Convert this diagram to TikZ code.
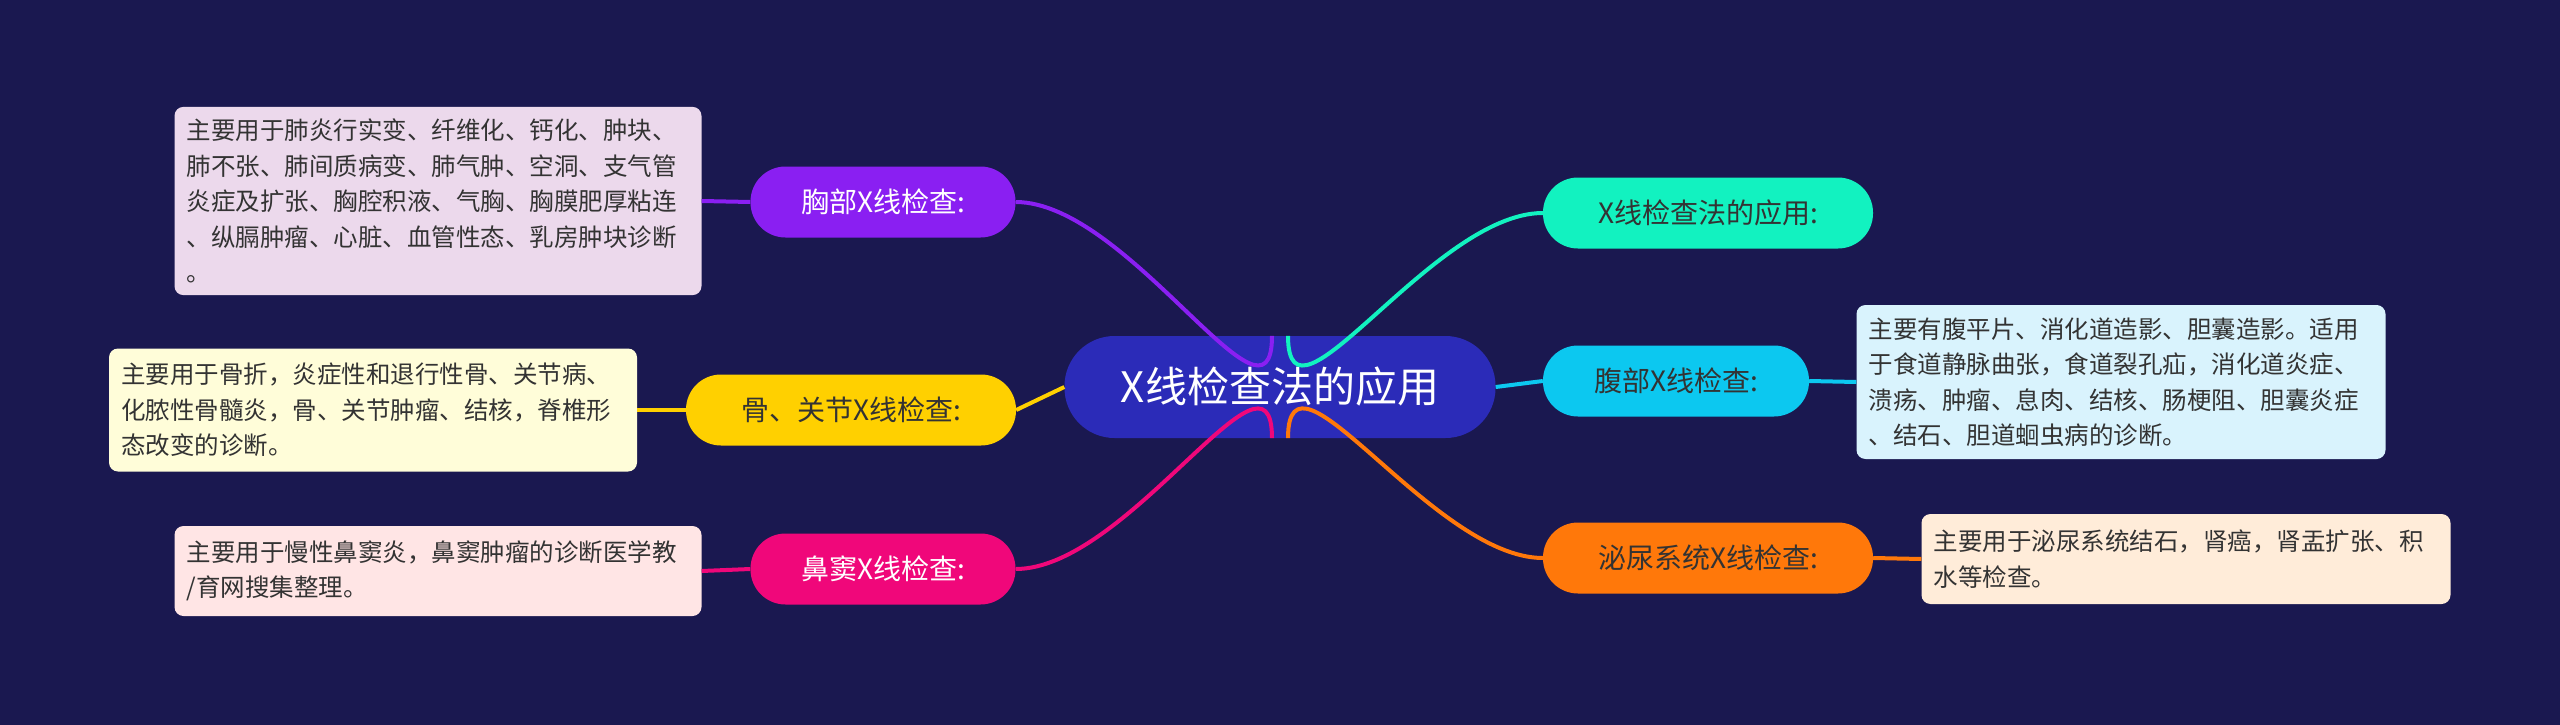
\documentclass[tikz,border=0pt]{standalone}
\usepackage{fontspec}
\setmainfont{Noto Sans CJK SC}
\usetikzlibrary{positioning, calc}
\definecolor{bgc}{HTML}{1A1850}
\definecolor{rootc}{HTML}{2B2BB8}
\definecolor{chestc}{HTML}{8A1FF2}
\definecolor{bonec}{HTML}{FFD000}
\definecolor{sinusc}{HTML}{F0077A}
\definecolor{appc}{HTML}{12F2C0}
\definecolor{abdoc}{HTML}{0CC8F0}
\definecolor{urinc}{HTML}{FF780A}
\definecolor{txtc}{HTML}{333333}
\tikzstyle{root} = [rectangle, rounded corners=50pt, fill=rootc, text=white, minimum width=431pt, minimum height=102pt, font=\fontsize{42}{48}\selectfont]
\tikzstyle{branch} = [rectangle, rounded corners=35pt, minimum height=71pt, font=\fontsize{28}{32}\selectfont]
\tikzstyle{detail} = [rectangle, rounded corners=9pt, text=txtc, align=left, inner sep=12pt, font=\fontsize{24.5}{35.5}\selectfont]
\tikzstyle{link} = [line width=4pt]
\begin{document}
\begin{tikzpicture}[x=1pt, y=-1pt]
\fill[bgc] (0,0) rectangle (2560,725);
\useasboundingbox (0,0) rectangle (2560,725);
\node(root)[root] at (1280,387) {X线检查法的应用};
% left side
\node(chest)[branch, fill=chestc, text=white, minimum width=265pt] at (883,202) {胸部X线检查:};
\node(bone)[branch, fill=bonec, text=txtc, minimum width=330pt] at (851,410) {骨、关节X线检查:};
\node(sinus)[branch, fill=sinusc, text=white, minimum width=265pt] at (883,569) {鼻窦X线检查:};
\node(chestTxt)[detail, fill=violet!15, minimum width=527pt, minimum height=185pt, text width=503pt] at (438,201) {主要用于肺炎行实变、纤维化、钙化、肿块、\\肺不张、肺间质病变、肺气肿、空洞、支气管\\炎症及扩张、胸腔积液、气胸、胸膜肥厚粘连\\、纵膈肿瘤、心脏、血管性态、乳房肿块诊断\\。};
\node(boneTxt)[detail, fill=yellow!15, minimum width=528pt, minimum height=123pt, text width=504pt] at (373,410) {主要用于骨折，炎症性和退行性骨、关节病、\\化脓性骨髓炎，骨、关节肿瘤、结核，脊椎形\\态改变的诊断。};
\node(sinusTxt)[detail, fill=pink!40, minimum width=527pt, minimum height=90pt, text width=503pt] at (438,571) {主要用于慢性鼻窦炎，鼻窦肿瘤的诊断医学教\\/育网搜集整理。};
% right side
\node(app)[branch, fill=appc, text=txtc, minimum width=330pt] at (1708,213) {X线检查法的应用:};
\node(abdo)[branch, fill=abdoc, text=txtc, minimum width=266pt] at (1676,381) {腹部X线检查:};
\node(urin)[branch, fill=urinc, text=txtc, minimum width=330pt] at (1708,558) {泌尿系统X线检查:};
\node(abdoTxt)[detail, fill=cyan!15, minimum width=529pt, minimum height=154pt, text width=505pt] at (2121,382) {主要有腹平片、消化道造影、胆囊造影。适用\\于食道静脉曲张，食道裂孔疝，消化道炎症、\\溃疡、肿瘤、息肉、结核、肠梗阻、胆囊炎症\\、结石、胆道蛔虫病的诊断。};
\node(urinTxt)[detail, fill=orange!15, minimum width=529pt, minimum height=90pt, text width=505pt] at (2186,559) {主要用于泌尿系统结石，肾癌，肾盂扩张、积\\水等检查。};
% connectors
\draw[link, chestc] ($(root.north)+(-8,0)$) to[out=-90, in=0] (chest.east);
\draw[link, bonec] (root.west) -- (bone.east);
\draw[link, sinusc] ($(root.south)+(-8,0)$) to[out=90, in=0] (sinus.east);
\draw[link, appc] ($(root.north)+(8,0)$) to[out=-90, in=180] (app.west);
\draw[link, abdoc] (root.east) -- (abdo.west);
\draw[link, urinc] ($(root.south)+(8,0)$) to[out=90, in=180] (urin.west);
\draw[link, chestc] (chest.west) -- (chestTxt.east);
\draw[link, bonec] (bone.west) -- (boneTxt.east);
\draw[link, sinusc] (sinus.west) -- (sinusTxt.east);
\draw[link, abdoc] (abdo.east) -- (abdoTxt.west);
\draw[link, urinc] (urin.east) -- (urinTxt.west);
\end{tikzpicture}
\end{document}
